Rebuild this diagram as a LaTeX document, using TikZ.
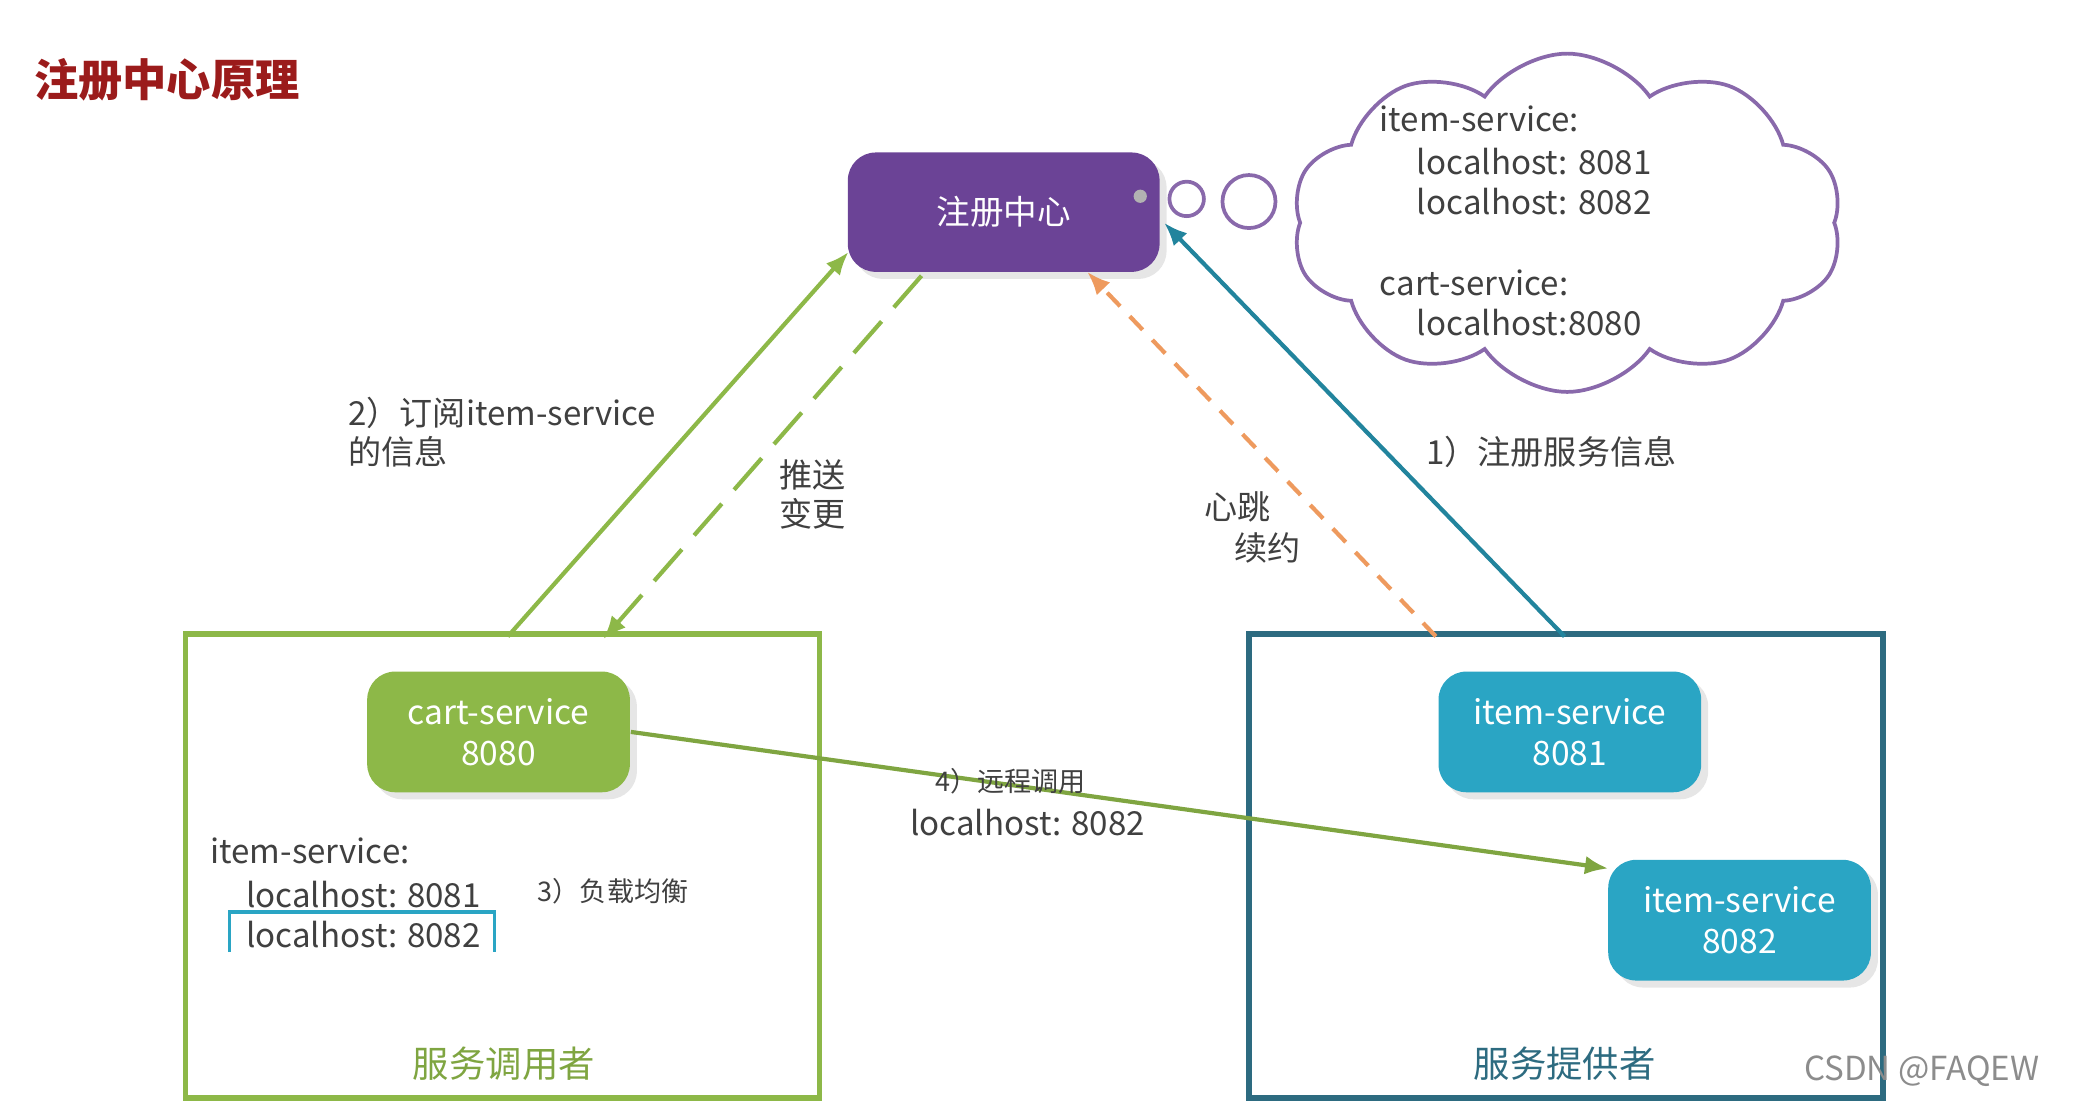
\documentclass[tikz,border=0pt]{standalone}
\usepackage{fontspec}
\setmainfont{Noto Sans CJK SC}
\usetikzlibrary{shapes.symbols,arrows.meta,shadows}
\definecolor{pur}{HTML}{6B4396}
\definecolor{grn}{HTML}{8DB848}
\definecolor{tea}{HTML}{2AA5C4}
\definecolor{dtea}{HTML}{2D6B80}
\definecolor{org}{HTML}{EE9A5E}
\definecolor{ttl}{HTML}{9B1B1B}
\begin{document}
\begin{tikzpicture}[x=0.01cm,y=-0.01cm,
  txt/.style={font=\fontsize{7.1pt}{8.5pt}\selectfont,text=black!75,inner sep=0pt},
  svc/.style={rounded corners=6pt,text=white,align=center,font=\fontsize{7.2pt}{8.8pt}\selectfont,drop shadow={opacity=0.2,shadow xshift=1.5pt,shadow yshift=-1.5pt}},
  arr/.style={line width=0.9pt,-{Latex[length=5pt,width=4pt]}}]
\useasboundingbox (0,0) rectangle (1568,835);
\node[anchor=west,text=ttl,font=\fontsize{9.5pt}{11pt}\selectfont\bfseries,inner sep=0pt] (title) at (25,60) {注册中心原理};
% registry
\node[svc,fill=pur,minimum width=2.35cm,minimum height=0.9cm,draw=none] (reg) at (757,160) {注册中心};
\fill[gray!60] (860,148) circle (5);
\draw[pur!80,thick] (895,150) circle (13);
\draw[pur!80,thick] (942,152) circle (20);
\node[cloud,cloud puffs=10,cloud puff arc=110,aspect=1.7,draw=pur!80,thick,minimum width=4.15cm,minimum height=2.55cm] (cloud) at (1182,168) {};
\node[txt,anchor=west] (c1) at (1040,90) {item-service:};
\node[txt,anchor=west] (c2) at (1068,122) {localhost: 8081};
\node[txt,anchor=west] (c3) at (1068,152) {localhost: 8082};
\node[txt,anchor=west] (c4) at (1040,213) {cart-service:};
\node[txt,anchor=west] (c5) at (1068,243) {localhost:8080};
% boxes
\draw[grn,line width=1.2pt] (140,478) rectangle (618,828);
\draw[dtea,line width=1.2pt] (942,478) rectangle (1420,828);
\node[txt,text=grn!90!black,font=\fontsize{7.8pt}{9pt}\selectfont] (l1) at (380,802) {服务调用者};
\node[txt,text=dtea,font=\fontsize{7.8pt}{9pt}\selectfont] (l2) at (1180,802) {服务提供者};
\node[svc,fill=grn,minimum width=1.98cm,minimum height=0.91cm] (cart) at (376,552) {cart-service\\8080};
\node[svc,fill=tea,minimum width=1.98cm,minimum height=0.91cm] (i1) at (1184,552) {item-service\\8081};
\node[svc,fill=tea,minimum width=1.98cm,minimum height=0.91cm] (i2) at (1312,694) {item-service\\8082};
\node[txt,anchor=west] (t1) at (158,642) {item-service:};
\node[txt,anchor=west] (t2) at (185,675) {localhost: 8081};
\node[txt,anchor=west] (t3) at (185,705) {localhost: 8082};
\draw[tea,thick] (173,718) -- (173,688) -- (373,688) -- (373,718);
\node[txt,anchor=west,font=\fontsize{5.8pt}{7pt}\selectfont] (lb) at (405,672) {3）负载均衡};
% arrows
\coordinate (a1) at (383,480); \coordinate (a2) at (640,190);
\draw[arr,grn] (a1) -- (a2);
\coordinate (b1) at (695,208); \coordinate (b2) at (455,482);
\draw[arr,grn,dashed,dash pattern=on 9pt off 4pt] (b1) -- (b2);
\coordinate (o1) at (1083,480); \coordinate (o2) at (820,205);
\draw[arr,org,dashed,dash pattern=on 4pt off 3pt] (o1) -- (o2);
\coordinate (e1) at (1180,480); \coordinate (e2) at (878,168);
\draw[arr,tea!80!black] (e1) -- (e2);
\coordinate (g2) at (1213,655);
\draw[arr,grn!90!black] (cart.east) -- (g2);
% labels
\node[txt,anchor=west,align=left] (m1) at (262,326) {2）订阅item-service\\的信息};
\node[txt,align=center] (m2) at (613,373) {推送\\变更};
\node[txt,anchor=west] (m3) at (908,382) {心跳};
\node[txt,anchor=west] (m4) at (930,413) {续约};
\node[txt,anchor=west] (m5) at (1075,341) {1）注册服务信息};
\node[txt,anchor=west,font=\fontsize{5.8pt}{7pt}\selectfont] (m6) at (705,589) {4）远程调用};
\node[txt] (m7) at (775,620) {localhost: 8082};
\node[txt,text=black!45,anchor=west] (wm) at (1360,808) {CSDN @FAQEW};
\end{tikzpicture}
\end{document}
